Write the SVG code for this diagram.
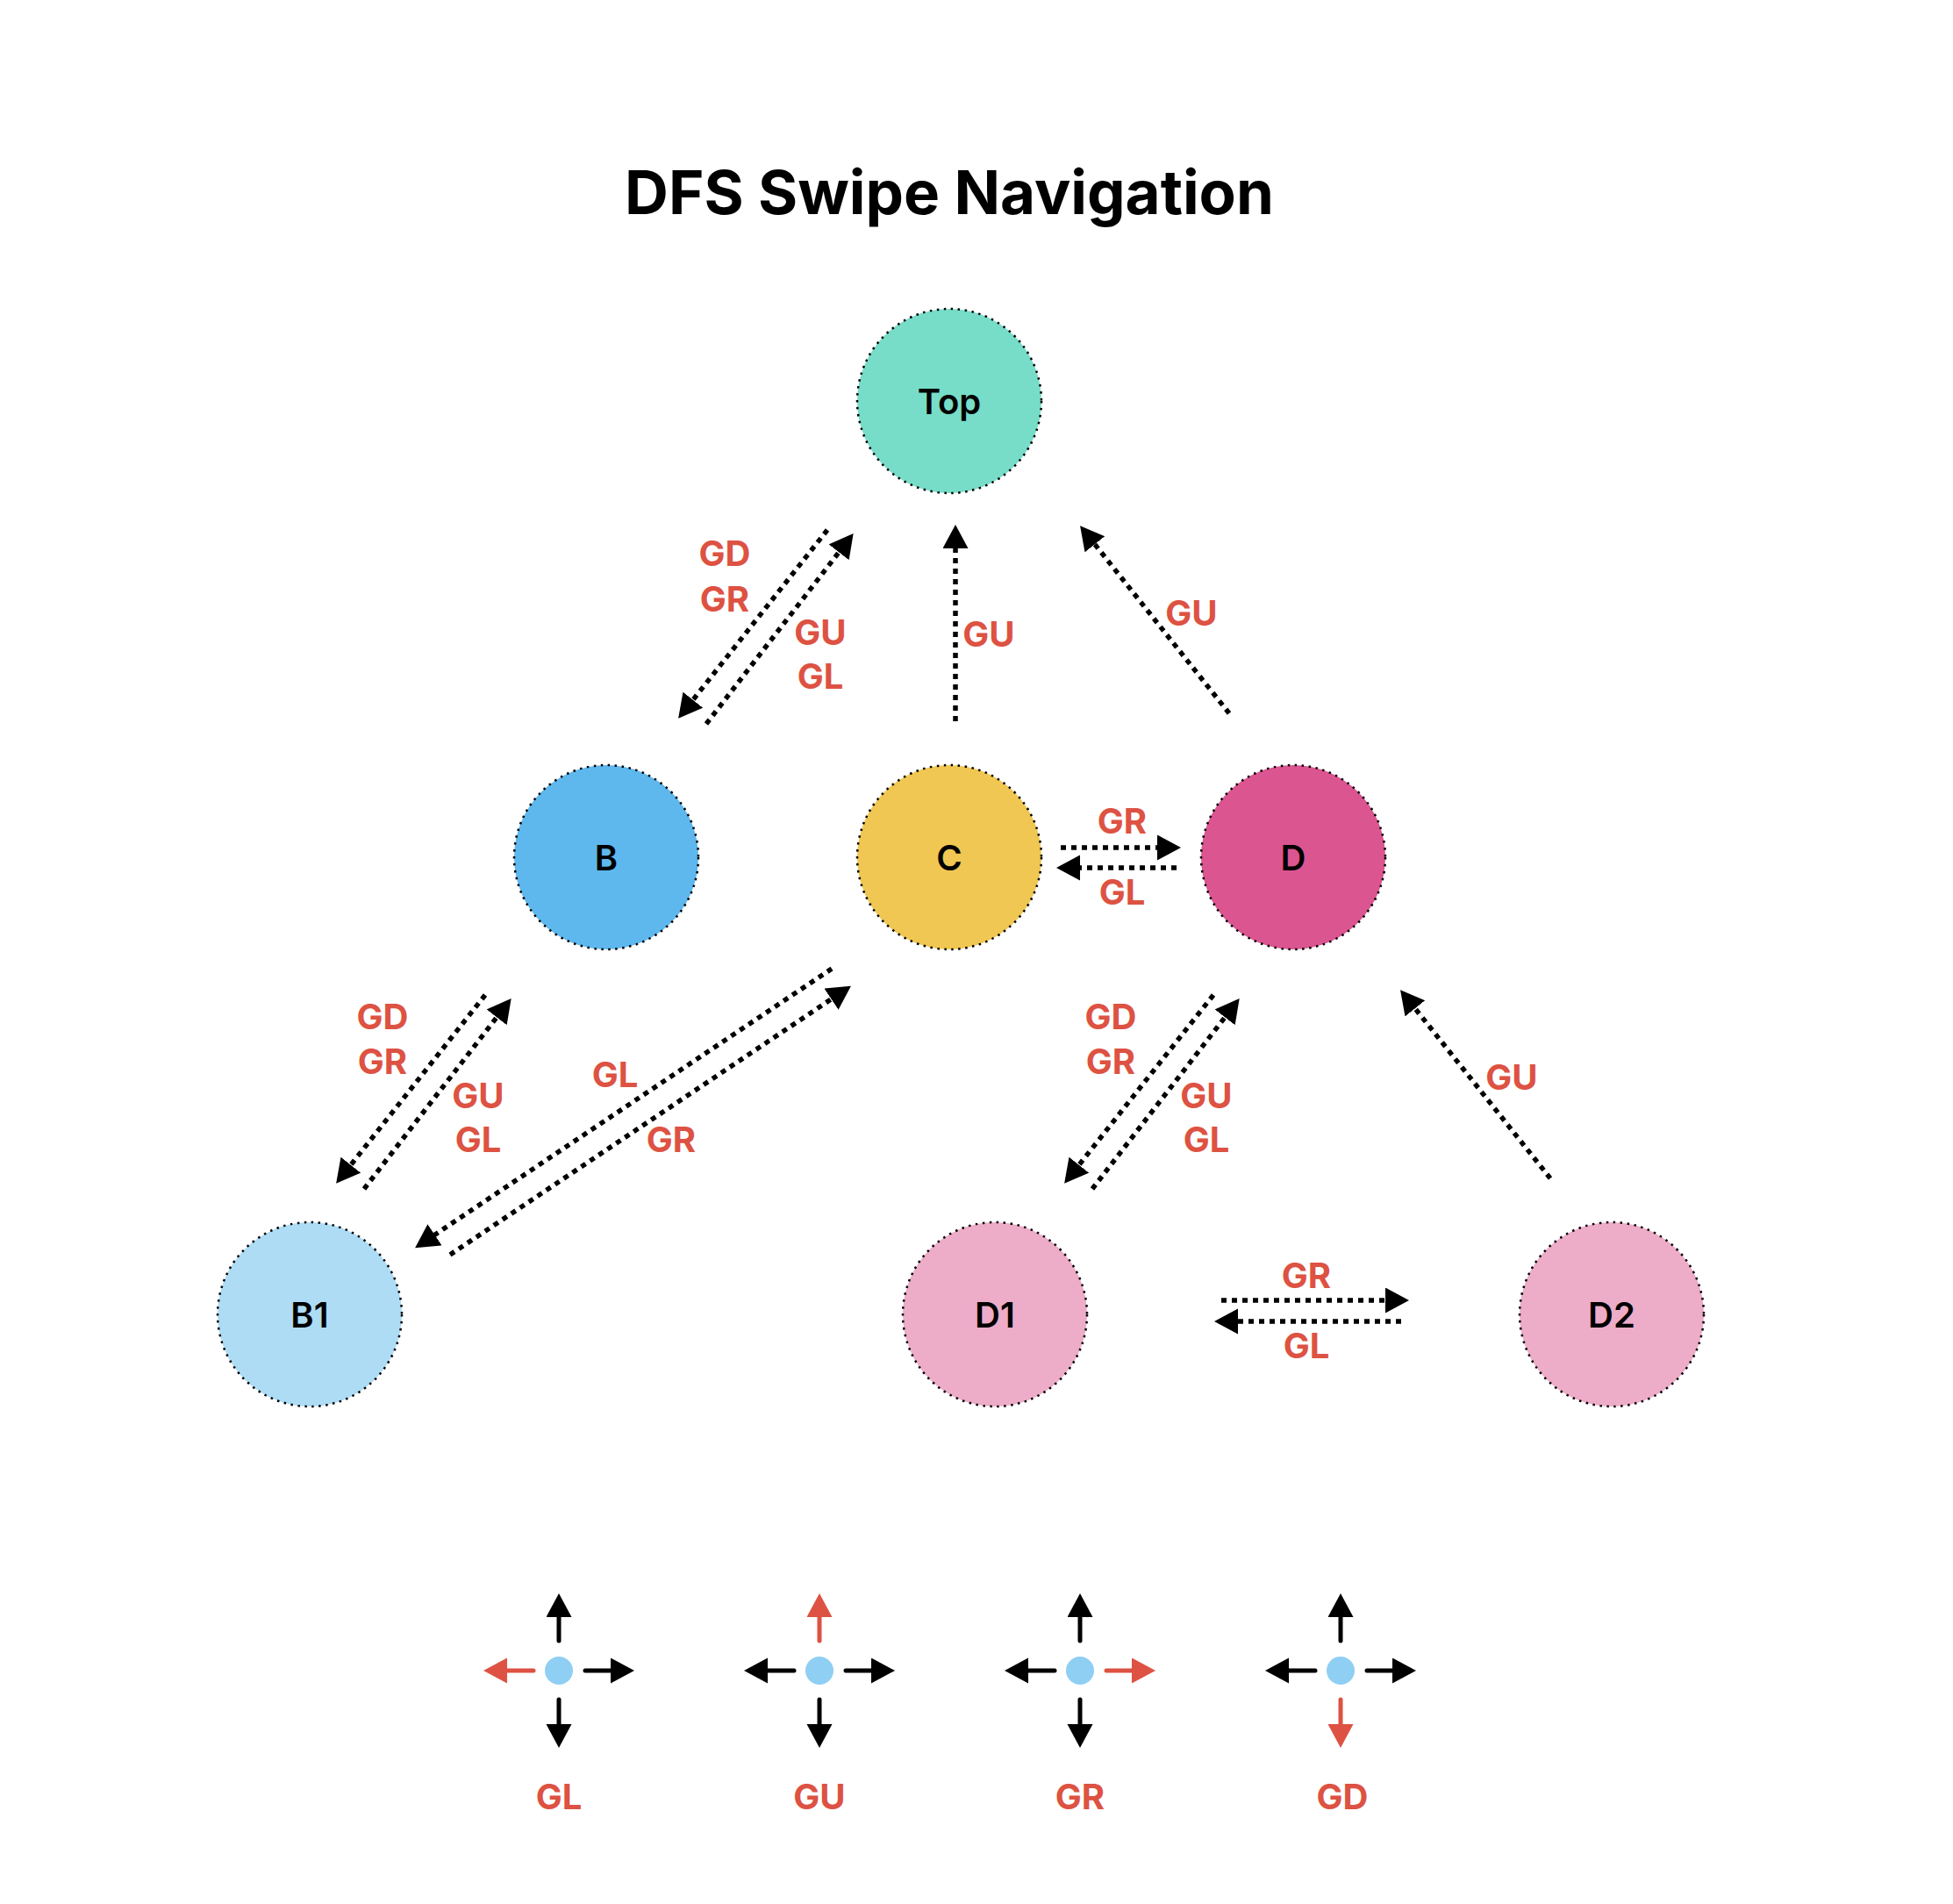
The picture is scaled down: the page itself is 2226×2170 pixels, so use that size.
<svg xmlns="http://www.w3.org/2000/svg" width="2226" height="2170" viewBox="0 0 2226 2170">
<defs>
<style>
.node circle{stroke:#000;stroke-width:2.5;stroke-dasharray:2.5 5.5;}
.node text{font-family:Inter,"Noto Sans","Liberation Sans",sans-serif;font-weight:600;font-size:40px;text-anchor:middle;fill:#000;}
.edge{fill:none;stroke:#000;stroke-width:5.5;stroke-dasharray:6 6;marker-end:url(#ah);}
.lbl{font-family:Inter,"Noto Sans","Liberation Sans",sans-serif;font-weight:700;font-size:40px;fill:#DD5242;text-anchor:middle;}
.title{font-family:Inter,"Noto Sans","Liberation Sans",sans-serif;font-weight:700;font-size:69px;fill:#000;text-anchor:middle;}
.la{fill:none;stroke:#000;stroke-width:5;stroke-linecap:round;marker-end:url(#ah);}
.la.r{stroke:#DD5242;marker-end:url(#ahr);}
.dot{fill:#8FCFF3;}
</style>
<marker id="ah" markerUnits="userSpaceOnUse" markerWidth="28" markerHeight="30" refX="3" refY="14.5" orient="auto" viewBox="0 0 28 30">
<path d="M0,0 L27,14.5 L0,29 z" fill="#000"/>
</marker>
<marker id="ahr" markerUnits="userSpaceOnUse" markerWidth="28" markerHeight="30" refX="3" refY="14.5" orient="auto" viewBox="0 0 28 30">
<path d="M0,0 L27,14.5 L0,29 z" fill="#DD5242"/>
</marker>
</defs>
<rect width="2226" height="2170" fill="#fff"/>
<text class="title" x="1082" y="244">DFS Swipe Navigation</text>

<g id="node-top" class="node"><circle cx="1082" cy="457" r="105" fill="#77DDC8"/><text x="1082" y="472">Top</text></g>
<g id="node-b" class="node"><circle cx="691" cy="977" r="105" fill="#5EB8EE"/><text x="691" y="992">B</text></g>
<g id="node-c" class="node"><circle cx="1082" cy="977" r="105" fill="#F0C752"/><text x="1082" y="992">C</text></g>
<g id="node-d" class="node"><circle cx="1474" cy="977" r="105" fill="#DB5590"/><text x="1474" y="992">D</text></g>
<g id="node-b1" class="node"><circle cx="353" cy="1498" r="105" fill="#AEDCF5"/><text x="353" y="1513">B1</text></g>
<g id="node-d1" class="node"><circle cx="1134" cy="1498" r="105" fill="#EDACC8"/><text x="1134" y="1513">D1</text></g>
<g id="node-d2" class="node"><circle cx="1837" cy="1498" r="105" fill="#EDACC8"/><text x="1837" y="1513">D2</text></g>

<g id="connectors">
<line class="edge" x1="943" y1="604" x2="788" y2="800"/>
<line class="edge" x1="805" y1="825" x2="958" y2="627"/>
<line class="edge" x1="553" y1="1134" x2="398" y2="1330"/>
<line class="edge" x1="415" y1="1355" x2="568" y2="1157"/>
<line class="edge" x1="1383" y1="1134" x2="1228" y2="1330"/>
<line class="edge" x1="1245" y1="1355" x2="1398" y2="1157"/>
<line class="edge" x1="948" y1="1104" x2="493" y2="1409"/>
<line class="edge" x1="513" y1="1430" x2="950" y2="1137"/>
<line class="edge" x1="1089" y1="822" x2="1089" y2="622"/>
<line class="edge" x1="1401" y1="813" x2="1246" y2="618"/>
<line class="edge" x1="1767" y1="1343" x2="1611" y2="1147"/>
<line class="edge" x1="1209" y1="966" x2="1322" y2="966"/>
<line class="edge" x1="1341" y1="989" x2="1228" y2="989"/>
<line class="edge" x1="1392" y1="1482" x2="1582" y2="1482"/>
<line class="edge" x1="1597" y1="1506" x2="1408" y2="1506"/>
</g>

<g id="edge-labels">
<text class="lbl" x="826" y="645">GD</text>
<text class="lbl" x="826" y="697">GR</text>
<text class="lbl" x="935" y="735">GU</text>
<text class="lbl" x="935" y="785">GL</text>
<text class="lbl" x="436" y="1173">GD</text>
<text class="lbl" x="436" y="1224">GR</text>
<text class="lbl" x="545" y="1263">GU</text>
<text class="lbl" x="545" y="1313">GL</text>
<text class="lbl" x="1266" y="1173">GD</text>
<text class="lbl" x="1266" y="1224">GR</text>
<text class="lbl" x="1375" y="1263">GU</text>
<text class="lbl" x="1375" y="1313">GL</text>
<text class="lbl" x="701" y="1239">GL</text>
<text class="lbl" x="765" y="1313">GR</text>
<text class="lbl" x="1127" y="737">GU</text>
<text class="lbl" x="1358" y="713">GU</text>
<text class="lbl" x="1723" y="1242">GU</text>
<text class="lbl" x="1279" y="950">GR</text>
<text class="lbl" x="1279" y="1031">GL</text>
<text class="lbl" x="1489" y="1468">GR</text>
<text class="lbl" x="1489" y="1548">GL</text>
</g>

<g id="legend-gl">
<line class="la" x1="637" y1="1870" x2="637" y2="1840"/>
<line class="la r" x1="608" y1="1904" x2="575" y2="1904"/>
<line class="la" x1="667" y1="1904" x2="699" y2="1904"/>
<line class="la" x1="637" y1="1937" x2="637" y2="1968"/>
<circle class="dot" cx="637" cy="1904" r="16"/>
<text class="lbl" x="637" y="2062">GL</text>
</g>
<g id="legend-gu">
<line class="la r" x1="934" y1="1870" x2="934" y2="1840"/>
<line class="la" x1="905" y1="1904" x2="872" y2="1904"/>
<line class="la" x1="964" y1="1904" x2="996" y2="1904"/>
<line class="la" x1="934" y1="1937" x2="934" y2="1968"/>
<circle class="dot" cx="934" cy="1904" r="16"/>
<text class="lbl" x="934" y="2062">GU</text>
</g>
<g id="legend-gr">
<line class="la" x1="1231" y1="1870" x2="1231" y2="1840"/>
<line class="la" x1="1202" y1="1904" x2="1169" y2="1904"/>
<line class="la r" x1="1261" y1="1904" x2="1293" y2="1904"/>
<line class="la" x1="1231" y1="1937" x2="1231" y2="1968"/>
<circle class="dot" cx="1231" cy="1904" r="16"/>
<text class="lbl" x="1231" y="2062">GR</text>
</g>
<g id="legend-gd">
<line class="la" x1="1528" y1="1870" x2="1528" y2="1840"/>
<line class="la" x1="1499" y1="1904" x2="1466" y2="1904"/>
<line class="la" x1="1558" y1="1904" x2="1590" y2="1904"/>
<line class="la r" x1="1528" y1="1937" x2="1528" y2="1968"/>
<circle class="dot" cx="1528" cy="1904" r="16"/>
<text class="lbl" x="1530" y="2062">GD</text>
</g>
</svg>
